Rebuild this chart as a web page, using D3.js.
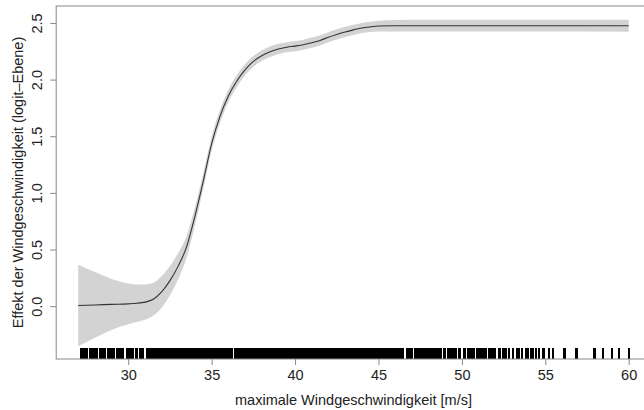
<!DOCTYPE html>
<html><head><meta charset="utf-8">
<script src="https://cdn.jsdelivr.net/npm/d3@7"></script>
<style>body{margin:0;background:#fff}svg text{font-family:"Liberation Sans",Arial,sans-serif}</style>
</head><body><svg id="c" width="644" height="410"></svg>
<script>
const xs    = [27, 28, 29, 30, 30.5, 31, 31.5, 32, 32.5, 33, 33.5, 34, 34.5, 35, 35.5, 36, 36.5, 37, 37.5, 38, 38.5, 39, 39.5, 40, 40.5, 41, 41.5, 42, 42.5, 43, 43.5, 44, 44.5, 45, 46, 48, 50, 55, 60];
const fit   = [0.010, 0.015, 0.020, 0.025, 0.030, 0.040, 0.065, 0.130, 0.230, 0.360, 0.530, 0.800, 1.110, 1.440, 1.680, 1.860, 1.990, 2.090, 2.165, 2.215, 2.250, 2.275, 2.290, 2.300, 2.312, 2.330, 2.350, 2.378, 2.403, 2.425, 2.443, 2.460, 2.470, 2.477, 2.480, 2.480, 2.480, 2.480, 2.480];
const upper = [0.370, 0.305, 0.245, 0.205, 0.195, 0.195, 0.210, 0.270, 0.360, 0.475, 0.625, 0.880, 1.180, 1.502, 1.738, 1.915, 2.043, 2.140, 2.212, 2.262, 2.297, 2.320, 2.335, 2.345, 2.357, 2.375, 2.395, 2.423, 2.448, 2.470, 2.488, 2.505, 2.516, 2.524, 2.530, 2.532, 2.532, 2.532, 2.533];
const lower = [-0.350, -0.275, -0.205, -0.155, -0.135, -0.115, -0.080, -0.010, 0.100, 0.245, 0.435, 0.720, 1.040, 1.378, 1.622, 1.805, 1.937, 2.040, 2.118, 2.168, 2.203, 2.230, 2.245, 2.255, 2.267, 2.285, 2.305, 2.333, 2.358, 2.380, 2.398, 2.415, 2.424, 2.430, 2.430, 2.428, 2.428, 2.428, 2.427];
const rugStr = "27.15 27.3 27.4 27.5 27.7 27.8 27.9 28.0 28.1 28.3 28.4 28.5 28.6 28.8 28.9 29.0 29.15 29.3 29.4 29.5 29.6 29.7 29.9 30.0 30.1 30.2 30.3 30.45 30.55 30.7 30.8 30.9 " +
 "31.1 31.2 31.3 31.4 31.5 31.6 31.7 31.8 31.9 32.0 32.1 32.2 32.3 32.4 32.5 32.6 32.7 32.8 32.9 33.0 33.1 33.2 33.3 33.4 33.5 33.6 33.7 33.8 33.9 34.0 34.1 34.2 34.3 34.4 34.5 34.6 34.7 34.8 34.9 35.0 " +
 "35.1 35.2 35.3 35.4 35.5 35.6 35.7 35.8 35.9 36.0 36.1 36.2 36.4 36.5 36.6 36.7 36.8 36.9 37.0 37.1 37.2 37.3 37.4 37.5 37.6 37.7 37.8 37.9 38.0 38.1 38.2 38.3 38.4 38.5 38.6 38.7 38.8 38.9 39.0 " +
 "39.1 39.2 39.3 39.4 39.5 39.6 39.7 39.8 39.9 40.0 40.1 40.2 40.3 40.4 40.5 40.6 40.7 40.8 40.9 41.0 41.1 41.2 41.3 41.4 41.5 41.6 41.7 41.8 41.9 42.0 42.1 42.2 42.3 42.4 42.5 42.6 42.7 42.8 42.9 43.0 " +
 "43.1 43.2 43.3 43.4 43.5 43.6 43.7 43.8 43.9 44.0 44.1 44.2 44.3 44.4 44.5 44.6 44.7 44.8 44.9 45.0 45.1 45.2 45.3 45.4 45.5 45.6 45.7 45.8 45.9 46.0 46.1 46.2 46.3 46.4 46.5 46.7 46.8 46.9 47.0 " +
 "47.2 47.3 47.4 47.5 47.6 47.7 47.8 47.9 48.0 48.1 48.2 48.3 48.4 48.5 48.6 48.75 48.9 49.0 49.15 49.3 49.4 49.5 49.65 49.8 49.9 50.1 50.2 50.35 50.5 50.6 50.75 50.9 51.0 51.1 51.2 51.35 51.45 " +
 "51.6 51.7 51.8 51.9 52.0 52.2 52.3 52.45 52.55 52.65 52.85 53.05 53.3 53.45 53.6 53.85 53.95 54.15 54.25 54.45 54.65 54.85 54.95 55.25 55.45 56.1 56.2 56.85 56.9 57.95 58.0 58.45 59.0 59.4 60.0";
const rug = rugStr.split(" ").map(Number);
const xTicks = [30, 35, 40, 45, 50, 55, 60];
const yTicks = [0.0, 0.5, 1.0, 1.5, 2.0, 2.5];
const xLabel = "maximale Windgeschwindigkeit [m/s]";
const yLabel = "Effekt der Windgeschwindigkeit (logit\u2013Ebene)";

const FS = "14.5px";
const svg = d3.select("#c");
const x = d3.scaleLinear().domain([25.68, 61.32]).range([56.2, 650.7]);
const y = d3.scaleLinear().domain([-0.462, 2.654]).range([359, 6]);
const pts = xs.map((v, i) => ({x: v, f: fit[i], lo: lower[i], hi: upper[i]}));

svg.append("path").datum(pts)
  .attr("d", d3.area().curve(d3.curveMonotoneX).x(d => x(d.x)).y0(d => y(d.lo)).y1(d => y(d.hi)))
  .attr("fill", "#d3d3d3");
svg.append("path").datum(pts)
  .attr("d", d3.line().curve(d3.curveMonotoneX).x(d => x(d.x)).y(d => y(d.f)))
  .attr("fill", "none").attr("stroke", "#333").attr("stroke-width", 1.1);

svg.append("g").attr("shape-rendering", "crispEdges").selectAll("line").data(rug).join("line")
  .attr("x1", d => x(d)).attr("x2", d => x(d))
  .attr("y1", 359).attr("y2", 348)
  .attr("stroke", "#000").attr("stroke-width", 2);

// box
svg.append("rect").attr("x", 56.2).attr("y", 6).attr("width", 650.7 - 56.2).attr("height", 353)
  .attr("fill", "none").attr("stroke", "#888").attr("stroke-width", 1);

const xa = svg.append("g").attr("transform", "translate(0,359)")
  .call(d3.axisBottom(x).tickValues(xTicks).tickSize(6).tickPadding(5).tickFormat(d3.format("d")));
const ya = svg.append("g").attr("transform", "translate(56.2,0)")
  .call(d3.axisLeft(y).tickValues(yTicks).tickSize(6).tickPadding(5).tickFormat(d3.format(".1f")));
[xa, ya].forEach(g => {
  g.select(".domain").remove();
  g.selectAll("line").attr("stroke", "#888");
  g.selectAll("text").attr("fill", "#222").style("font-size", FS).style("font-family", "Liberation Sans, Arial, sans-serif");
});
ya.selectAll("text").attr("text-anchor", "middle")
  .attr("transform", d => `translate(-19,${y(d)}) rotate(-90)`).attr("x", 0).attr("y", 0)
  .attr("dy", "0.35em");
ya.selectAll(".tick").attr("transform", null);
ya.selectAll(".tick line").attr("y1", d => y(d)).attr("y2", d => y(d));

svg.append("text").attr("x", 353.5).attr("y", 405).attr("text-anchor", "middle")
  .attr("fill", "#222").style("font-size", FS).text(xLabel);
svg.append("text").attr("transform", "translate(23,182.5) rotate(-90)").attr("text-anchor", "middle")
  .attr("fill", "#222").style("font-size", FS).text(yLabel);
</script></body></html>
